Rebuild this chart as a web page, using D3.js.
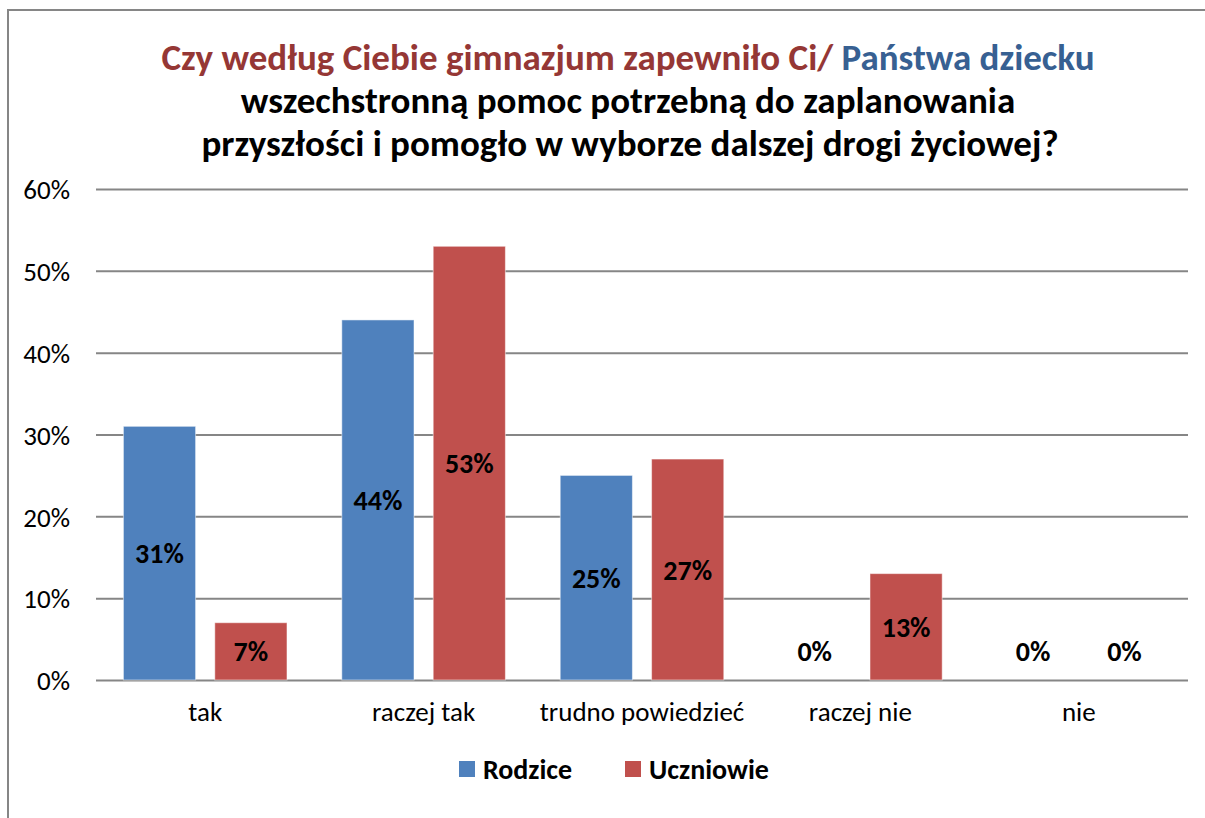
<!DOCTYPE html>
<html>
<head>
<meta charset="utf-8">
<script src="https://cdn.jsdelivr.net/npm/d3@7"></script>
<style>
  html, body { margin: 0; padding: 0; background: #fff; }
  svg { display: block; font-family: Carlito, Calibri, Lato, "Open Sans", sans-serif; }
</style>
</head>
<body>
<div id="chart"></div>
<script>
// chart data
const categories = ["tak", "raczej tak", "trudno powiedzieć", "raczej nie", "nie"];
const seriesNames = ["Rodzice", "Uczniowie"];
const rodzice = [31, 44, 25, 0, 0];
const uczniowie = [7, 53, 27, 13, 0];
const yTicks = [0, 10, 20, 30, 40, 50, 60];
const colors = ["#4F81BD", "#C0504D"];

const width = 1205;
const height = 818;
const margin = { left: 96, right: 17, top: 189, bottom: 138 };

const svg = d3.select("#chart")
  .append("svg")
  .attr("width", width)
  .attr("height", height);

// outer frame (right and bottom edges fall outside the window)
svg.append("rect")
  .attr("x", 8).attr("y", 10)
  .attr("width", 1230).attr("height", 840)
  .attr("fill", "none")
  .attr("stroke", "#868686")
  .attr("stroke-width", 2);

// title
const title = svg.append("text")
  .attr("text-anchor", "middle")
  .attr("font-weight", "bold")
  .attr("font-size", "37px");
const t1 = title.append("tspan").attr("x", 628).attr("y", 70);
t1.append("tspan").attr("fill", "#953735").text("Czy według Ciebie gimnazjum zapewniło Ci/ ");
t1.append("tspan").attr("fill", "#376092").text("Państwa dziecku");
title.append("tspan").attr("x", 628).attr("y", 113).attr("fill", "#000")
  .text("wszechstronną pomoc potrzebną do zaplanowania");
title.append("tspan").attr("x", 630).attr("y", 156).attr("fill", "#000")
  .text("przyszłości i pomogło w wyborze dalszej drogi życiowej?");

// scales
const yScale = d3.scaleLinear()
  .domain([0, 60])
  .range([height - margin.bottom, margin.top]);

const xScale = d3.scaleBand()
  .domain(categories)
  .range([margin.left, width - margin.right]);

const xInner = d3.scaleBand()
  .domain(seriesNames)
  .range([0, xScale.bandwidth()])
  .paddingInner(0.21)
  .paddingOuter(0.3);

// gridlines + y labels
const yAxis = svg.append("g")
  .attr("transform", `translate(${margin.left}, 0)`)
  .call(d3.axisLeft(yScale)
    .tickValues(yTicks)
    .tickSize(-(width - margin.left - margin.right))
    .tickPadding(26)
    .tickFormat(d => d + "%"))
  .attr("font-family", null)
  .attr("font-size", "27px");
yAxis.select(".domain").remove();
yAxis.selectAll(".tick line").attr("stroke", "#868686").attr("stroke-width", 2);
yAxis.selectAll(".tick text")
  .attr("fill", "#000")
  .attr("dy", "0.36em");

// x labels
const xAxis = svg.append("g")
  .attr("transform", `translate(0, ${height - margin.bottom})`)
  .call(d3.axisBottom(xScale).tickSize(0).tickPadding(22))
  .attr("font-family", null)
  .attr("font-size", "27px");
xAxis.select(".domain").remove();
xAxis.selectAll(".tick text").attr("fill", "#000");

// bar table
const rows = [];
categories.forEach((c, i) => {
  rows.push({ cat: c, series: seriesNames[0], value: rodzice[i], color: colors[0] });
  rows.push({ cat: c, series: seriesNames[1], value: uczniowie[i], color: colors[1] });
});

svg.selectAll(".bar")
  .data(rows)
  .enter()
  .append("rect")
  .attr("class", "bar")
  .attr("x", d => xScale(d.cat) + xInner(d.series))
  .attr("y", d => yScale(d.value))
  .attr("width", xInner.bandwidth())
  .attr("height", d => yScale(0) - yScale(d.value))
  .attr("fill", d => d.color)
  .attr("stroke", d => d.value > 0 ? "#fff" : "none")
  .attr("stroke-opacity", 0.5)
  .attr("stroke-width", 1);

// value labels
svg.selectAll(".lbl")
  .data(rows)
  .enter()
  .append("text")
  .attr("class", "lbl")
  .attr("x", d => xScale(d.cat) + xInner(d.series) + xInner.bandwidth() / 2)
  .attr("y", d => Math.min((yScale(d.value) + yScale(0)) / 2, yScale(0) - 29))
  .attr("dy", "0.36em")
  .attr("text-anchor", "middle")
  .attr("font-weight", "bold")
  .attr("font-size", "28px")
  .attr("fill", "#000")
  .text(d => d.value + "%");

// legend
const legendX = [459, 625];
const legend = svg.selectAll(".legend")
  .data(seriesNames)
  .enter()
  .append("g")
  .attr("class", "legend")
  .attr("transform", (d, i) => `translate(${legendX[i]}, 761)`);
legend.append("rect")
  .attr("width", 16).attr("height", 16)
  .attr("fill", (d, i) => colors[i]);
legend.append("text")
  .attr("x", 24).attr("y", 8)
  .attr("dy", "0.36em")
  .attr("font-weight", "bold")
  .attr("font-size", "28px")
  .attr("fill", "#000")
  .text(d => d);
</script>
</body>
</html>
